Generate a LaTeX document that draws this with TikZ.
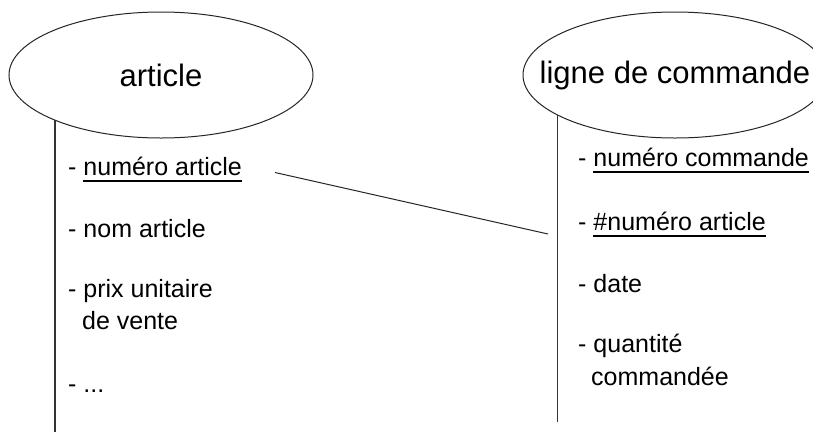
\documentclass[tikz,border=0pt]{standalone}
\usepackage{fontspec}
\setmainfont{Liberation Sans}
\usetikzlibrary{shapes.geometric}

% underlined key attribute, with a heavy rule below the baseline
\newcommand\keyattr[1]{\setbox0\hbox{#1}\rlap{\rule[-7pt]{\wd0}{1.8pt}}\box0}

\tikzset{
  entity/.style={ellipse, draw=black!85, line width=1pt, minimum width=304pt,
    minimum height=126pt, inner sep=0pt, font=\fontsize{31}{36}\selectfont},
  attr/.style={anchor=base west, inner sep=0pt, align=left,
    font=\fontsize{25}{32}\selectfont},
  lifeline/.style={draw=black!80, line width=1.4pt},
  link/.style={draw=black!85, line width=1pt}
}

\begin{document}
\begin{tikzpicture}[x=1pt,y=-1pt]
  \useasboundingbox (0,0) rectangle (813,432);
  \clip (0,0) rectangle (813,432);
  \fill[white] (0,0) rectangle (813,432);

  % entities (the long name overflows its ellipse)
  \node[entity] (article) at (161,75) {article};
  \node[entity] (ligne) at (675,75) {\makebox[0pt]{\raisebox{-2pt}{ligne de commande}}};

  % vertical attribute bars
  \coordinate (aTop) at (55,120);
  \coordinate (aBot) at (55,432);
  \coordinate (lTop) at (557.5,115);
  \coordinate (lBot) at (557.5,422);
  \draw[lifeline] (aTop) -- (aBot);
  \draw[lifeline] (lTop) -- (lBot);

  % attributes of article (multi-line nodes sit on their last baseline)
  \node[attr] (a1) at (68,175) {- \keyattr{numéro article}};
  \node[attr] (a2) at (68,237) {- nom article};
  \node[attr] (a3) at (68,329) {- prix unitaire\\\hspace*{14pt}de vente};
  \node[attr] (a4) at (68,392) {- ...};

  % attributes of ligne de commande
  \node[attr] (l1) at (578,166) {- \keyattr{numéro commande}};
  \node[attr] (l2) at (578,230) {- \keyattr{\#numéro article}};
  \node[attr] (l3) at (578,292) {- date};
  \node[attr, font=\fontsize{25}{33}\selectfont] (l4) at (578,385) {- quantité\\\hspace*{13pt}commandée};

  % foreign key link
  \coordinate (fkA) at (275,172.5);
  \coordinate (fkL) at (548,234);
  \draw[link] (fkA) -- (fkL);
\end{tikzpicture}
\end{document}
